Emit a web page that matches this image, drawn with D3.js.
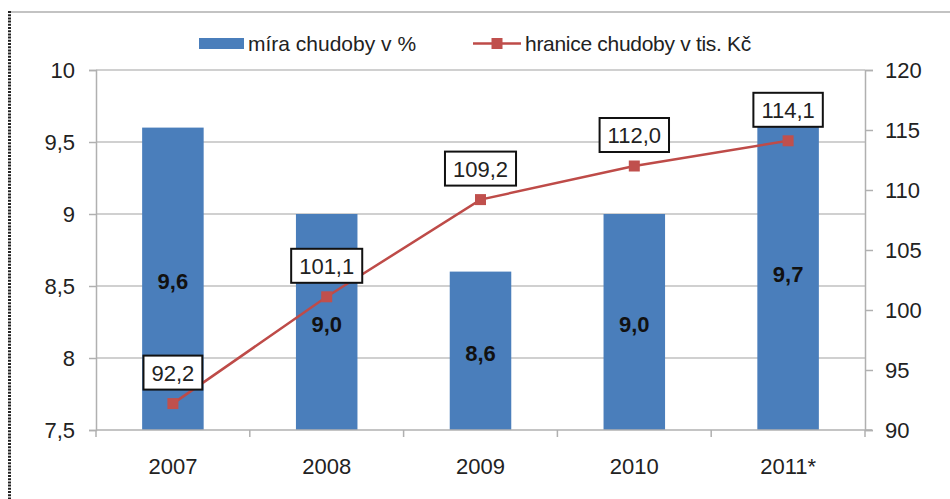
<!DOCTYPE html>
<html>
<head>
<meta charset="utf-8">
<script src="https://cdn.jsdelivr.net/npm/d3@7/dist/d3.min.js"></script>
<style>
  body { margin: 0; background: #fff; }
  svg { display: block; font-family: "Liberation Sans", Arial, sans-serif; }
</style>
</head>
<body>
<svg width="950" height="499"></svg>
<script>
  const years = ["2007", "2008", "2009", "2010", "2011*"];
  const povertyRate = [9.6, 9.0, 8.6, 9.0, 9.7];          // míra chudoby v %
  const povertyLine = [92.2, 101.1, 109.2, 112.0, 114.1]; // hranice chudoby v tis. Kč
  const leftTicks = [7.5, 8, 8.5, 9, 9.5, 10];
  const rightTicks = [90, 95, 100, 105, 110, 115, 120];
  const legendLabels = ["míra chudoby v %", "hranice chudoby v tis. Kč"];

  const cz = d3.formatLocale({ decimal: ",", thousands: " ", grouping: [3], currency: ["", " Kč"] });
  const fmt1 = cz.format(".1f");
  const fmtTick = d => cz.format("~g")(d);

  const svg = d3.select("svg");
  const plotL = 96, plotR = 865, plotT = 70, plotB = 430;

  // frame of the original clipping: grey top rule, dotted left edge
  svg.append("line").attr("x1", 8).attr("x2", 950).attr("y1", 12).attr("y2", 12)
    .attr("stroke", "#c3c3c3").attr("stroke-width", 2);
  svg.append("line").attr("x1", 9.5).attr("x2", 9.5).attr("y1", 11).attr("y2", 499)
    .attr("stroke", "#222").attr("stroke-width", 3).attr("stroke-dasharray", "2,1.2");

  const x = d3.scaleBand().domain(years).range([plotL, plotR]).paddingInner(0.6).paddingOuter(0.3);
  const yL = d3.scaleLinear().domain([7.5, 10]).range([plotB, plotT]);
  const yR = d3.scaleLinear().domain([90, 120]).range([plotB, plotT]);
  const cx = d => x(d) + x.bandwidth() / 2;

  // gridlines
  svg.append("g").selectAll("line").data(leftTicks.slice(1)).join("line")
    .attr("x1", plotL).attr("x2", plotR)
    .attr("y1", d => yL(d)).attr("y2", d => yL(d))
    .attr("stroke", "#c0c0c0").attr("stroke-width", 1.5);

  // left axis
  const gL = svg.append("g").attr("transform", `translate(${plotL},0)`)
    .call(d3.axisLeft(yL).tickValues(leftTicks).tickFormat(fmtTick).tickSize(7).tickPadding(14));
  // right axis
  const gR = svg.append("g").attr("transform", `translate(${plotR},0)`)
    .call(d3.axisRight(yR).tickValues(rightTicks).tickSize(8).tickPadding(12));
  [gL, gR].forEach(g => {
    g.select(".domain").attr("stroke", "#b0b0b0").attr("stroke-width", 1.5);
    g.selectAll(".tick line").attr("stroke", "#b0b0b0").attr("stroke-width", 1.5);
    g.selectAll(".tick text").attr("font-size", 22).attr("fill", "#222")
      .attr("font-family", "Liberation Sans, Arial, sans-serif");
  });

  // bars
  svg.append("g").selectAll("rect").data(years).join("rect")
    .attr("x", d => x(d)).attr("width", x.bandwidth())
    .attr("y", (d, i) => yL(povertyRate[i]))
    .attr("height", (d, i) => plotB - yL(povertyRate[i]))
    .attr("fill", "#4a7ebb");

  // bottom axis with ticks between categories
  const gB = svg.append("g").attr("transform", `translate(0,${plotB})`);
  gB.append("line").attr("x1", plotL).attr("x2", plotR + 7)
    .attr("stroke", "#b0b0b0").attr("stroke-width", 1.5);
  gB.selectAll("line.tk").data(d3.range(years.length + 1)).join("line").attr("class", "tk")
    .attr("x1", i => plotL + i * x.step()).attr("x2", i => plotL + i * x.step())
    .attr("y1", 0).attr("y2", 7)
    .attr("stroke", "#b0b0b0").attr("stroke-width", 1.5);
  gB.selectAll("text").data(years).join("text")
    .attr("x", cx).attr("y", 44).attr("text-anchor", "middle")
    .attr("font-size", 22).attr("fill", "#222").text(d => d);

  // bar value labels
  svg.append("g").selectAll("text").data(years).join("text")
    .attr("x", cx)
    .attr("y", (d, i) => (yL(povertyRate[i]) + plotB) / 2 + 10)
    .attr("text-anchor", "middle").attr("font-size", 22).attr("font-weight", "bold")
    .attr("fill", "#111").text((d, i) => fmt1(povertyRate[i]));

  // line series
  const line = d3.line().x((d, i) => cx(years[i])).y(d => yR(d));
  svg.append("path").datum(povertyLine).attr("d", line)
    .attr("fill", "none").attr("stroke", "#be4b48").attr("stroke-width", 2.5);
  svg.append("g").selectAll("rect").data(povertyLine).join("rect")
    .attr("x", (d, i) => cx(years[i]) - 5.5).attr("y", d => yR(d) - 5.5)
    .attr("width", 11).attr("height", 11).attr("fill", "#c0504d");

  // boxed line labels
  const lbl = svg.append("g").selectAll("g").data(povertyLine).join("g")
    .attr("transform", (d, i) => `translate(${cx(years[i])},${yR(d) - 31})`);
  lbl.append("rect").attr("fill", "#fff").attr("stroke", "#111").attr("stroke-width", 2);
  lbl.append("text").attr("text-anchor", "middle").attr("dy", 8)
    .attr("font-size", 22).attr("fill", "#222").text(d => fmt1(d));
  lbl.each(function () {
    const b = d3.select(this).select("text").node().getBBox();
    d3.select(this).select("rect")
      .attr("x", b.x - 8).attr("width", b.width + 16)
      .attr("y", -17).attr("height", 34);
  });

  // legend
  const leg = svg.append("g");
  leg.append("rect").attr("x", 199).attr("y", 38).attr("width", 45).attr("height", 11).attr("fill", "#4a7ebb");
  leg.append("text").attr("x", 248).attr("y", 51).attr("font-size", 21).attr("fill", "#222")
    .text(legendLabels[0]);
  leg.append("line").attr("x1", 473).attr("x2", 521).attr("y1", 43.5).attr("y2", 43.5)
    .attr("stroke", "#be4b48").attr("stroke-width", 2.5);
  leg.append("rect").attr("x", 491.5).attr("y", 38).attr("width", 11).attr("height", 11).attr("fill", "#c0504d");
  leg.append("text").attr("x", 525).attr("y", 51).attr("font-size", 21).attr("fill", "#222")
    .attr("letter-spacing", -0.3).text(legendLabels[1]);
</script>
</body>
</html>
